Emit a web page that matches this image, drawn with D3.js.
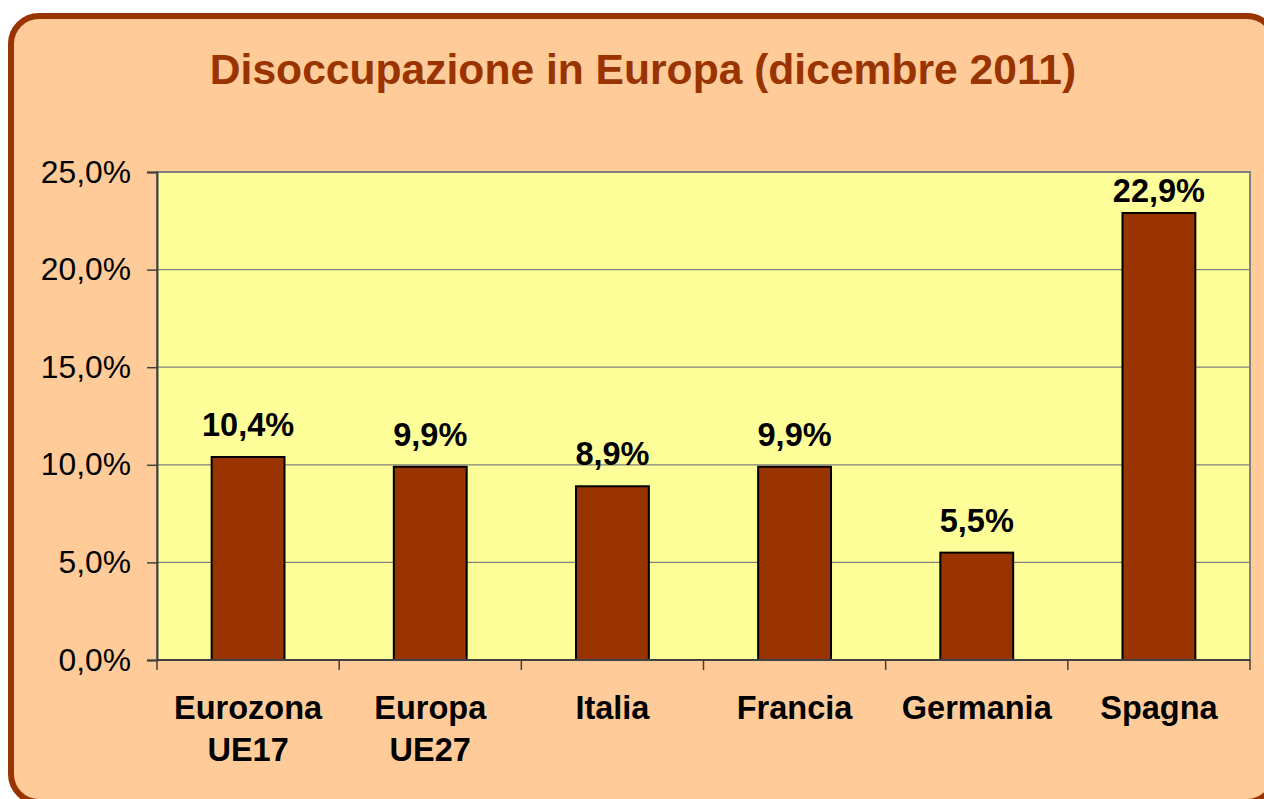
<!DOCTYPE html>
<html>
<head>
    <title>Disoccupazione in Europa</title>
    <meta charset = "UTF-8">
    <script src="https://cdn.jsdelivr.net/npm/d3@7"></script>
    <style>
        body { margin: 0; background: #fff; }
        svg { display: block; }
    </style>
</head>
<body>
<svg width = '1264' height = '799'></svg>
<script>
    // data
    var categories = [["Eurozona", "UE17"], ["Europa", "UE27"], ["Italia"], ["Francia"], ["Germania"], ["Spagna"]];
    var values = [10.4, 9.9, 8.9, 9.9, 5.5, 22.9];
    var yTicks = [0, 5, 10, 15, 20, 25];

    var width = 1264,
        height = 799;

    var plot = {left: 157, top: 172, right: 1250, bottom: 660};

    var svg = d3.select("svg");

    // rounded frame, runs a bit past the window edge on the right and bottom
    svg.append("rect")
        .attr("x", 11).attr("y", 16)
        .attr("width", 1264).attr("height", 786)
        .attr("rx", 28).attr("ry", 28)
        .attr("fill", "#FFCC99")
        .attr("stroke", "#993300")
        .attr("stroke-width", 6);

    svg.append("text")
        .attr("x", 643).attr("y", 84)
        .attr("text-anchor", "middle")
        .attr("font-family", "Liberation Sans, Arial, sans-serif")
        .attr("font-weight", "bold")
        .attr("font-size", 42.6)
        .attr("fill", "#993300")
        .text("Disoccupazione in Europa (dicembre 2011)");

    var x = d3.scaleBand()
        .domain(d3.range(categories.length))
        .range([plot.left, plot.right])
        .paddingInner(0.6)
        .paddingOuter(0.3);

    var y = d3.scaleLinear()
        .domain([0, 25])
        .range([plot.bottom, plot.top]);

    var fmt = function(v) { return d3.format(".1f")(v).replace(".", ",") + "%"; };

    svg.append("rect")
        .attr("x", plot.left).attr("y", plot.top)
        .attr("width", plot.right - plot.left).attr("height", plot.bottom - plot.top)
        .attr("fill", "#FFFF99")
        .attr("stroke", "#808080")
        .attr("stroke-width", 2);

    // gridlines
    svg.append("g").selectAll("line")
        .data(yTicks.slice(1, -1))
        .enter()
        .append("line")
        .attr("x1", plot.left).attr("x2", plot.right)
        .attr("y1", function(d) { return y(d); })
        .attr("y2", function(d) { return y(d); })
        .attr("stroke", "#808080")
        .attr("stroke-width", 1.2);

    // bars
    svg.append("g").selectAll("rect")
        .data(values)
        .enter()
        .append("rect")
        .attr("x", function(d, i) { return x(i); })
        .attr("y", function(d) { return y(d); })
        .attr("width", x.bandwidth())
        .attr("height", function(d) { return plot.bottom - y(d); })
        .attr("fill", "#993300")
        .attr("stroke", "#000")
        .attr("stroke-width", 2);

    // value labels
    svg.append("g").selectAll("text")
        .data(values)
        .enter()
        .append("text")
        .attr("x", function(d, i) { return x(i) + x.bandwidth() / 2; })
        .attr("y", function(d) { return Math.max(y(d) - 21, plot.top + 30); })
        .attr("text-anchor", "middle")
        .attr("font-family", "Liberation Sans, Arial, sans-serif")
        .attr("font-weight", "bold")
        .attr("font-size", 32.5)
        .attr("fill", "#000")
        .text(fmt);

    // y axis
    var yAxis = d3.axisLeft(y)
        .tickValues(yTicks)
        .tickSize(10)
        .tickPadding(16)
        .tickFormat(fmt);

    var gy = svg.append("g")
        .attr("transform", "translate(" + plot.left + ",0)")
        .call(yAxis);
    gy.select(".domain").attr("stroke", "#404040").attr("stroke-width", 2);
    gy.selectAll(".tick line").attr("stroke", "#404040").attr("stroke-width", 1.5);
    gy.selectAll(".tick text")
        .attr("font-family", "Liberation Sans, Arial, sans-serif")
        .attr("font-size", 31.8)
        .attr("fill", "#000");

    // x axis: ticks on the category boundaries
    var step = x.step();
    var bounds = d3.range(categories.length + 1).map(function(i) { return plot.left + i * step; });

    svg.append("line")
        .attr("x1", plot.left).attr("x2", plot.right)
        .attr("y1", plot.bottom).attr("y2", plot.bottom)
        .attr("stroke", "#404040")
        .attr("stroke-width", 2);

    svg.append("g").selectAll("line")
        .data(bounds)
        .enter()
        .append("line")
        .attr("x1", function(d) { return d; }).attr("x2", function(d) { return d; })
        .attr("y1", plot.bottom).attr("y2", plot.bottom + 10)
        .attr("stroke", "#404040")
        .attr("stroke-width", 1.5);

    var labels = svg.append("g").selectAll("text")
        .data(categories)
        .enter()
        .append("text")
        .attr("x", function(d, i) { return x(i) + x.bandwidth() / 2; })
        .attr("y", 719)
        .attr("text-anchor", "middle")
        .attr("font-family", "Liberation Sans, Arial, sans-serif")
        .attr("font-weight", "bold")
        .attr("font-size", 32.5)
        .attr("fill", "#000");

    labels.selectAll("tspan")
        .data(function(d) { return d; })
        .enter()
        .append("tspan")
        .attr("x", function() { return this.parentNode.getAttribute("x"); })
        .attr("dy", function(d, i) { return i === 0 ? 0 : 42; })
        .text(function(d) { return d; });
</script>
</body>
</html>
